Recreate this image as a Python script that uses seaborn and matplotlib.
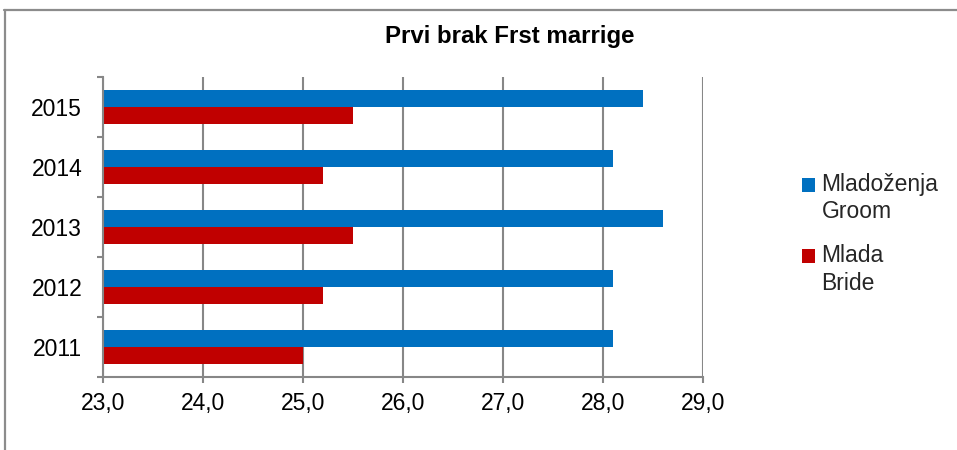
import matplotlib
matplotlib.use("Agg")
import matplotlib.pyplot as plt
import matplotlib.patches as mpatches
from matplotlib.legend_handler import HandlerPatch
from matplotlib.lines import Line2D
from matplotlib.ticker import FuncFormatter, FixedLocator
import seaborn as sns
import pandas as pd

# ---- data ----
years = ["2015", "2014", "2013", "2012", "2011"]
groom = [28.4, 28.1, 28.6, 28.1, 28.1]
bride = [25.5, 25.2, 25.5, 25.2, 25.0]
series_names = ["Mladoženja\nGroom", "Mlada\nBride"]
title = "Prvi brak Frst marrige"
x_ticks = [23, 24, 25, 26, 27, 28, 29]

colors = ["#0070C0", "#C00000"]
grid_col = "#878787"

df = pd.DataFrame({
    "year": years * 2,
    "value": groom + bride,
    "series": [series_names[0]] * len(years) + [series_names[1]] * len(years),
})

sns.set_theme(style="white")
plt.rcParams["font.family"] = ["Liberation Sans", "DejaVu Sans"]

FS = 16.5
fig = plt.figure(figsize=(9.57, 4.5), dpi=100)
ax = fig.add_axes([103 / 957, (450 - 377) / 450, 600 / 957, 300 / 450])

sns.barplot(data=df, x="value", y="year", hue="series", order=years,
            hue_order=series_names, palette=colors, orient="h",
            width=34 / 60, saturation=1, linewidth=0, ax=ax, legend=False,
            errorbar=None)

ax.set_xlim(23, 29)
ax.set_ylim(len(years) - 0.5, -0.5)
ax.set_xlabel("")
ax.set_ylabel("")

# grid
ax.xaxis.set_major_locator(FixedLocator(x_ticks))
ax.xaxis.set_major_formatter(FuncFormatter(lambda v, p: f"{v:.1f}".replace(".", ",")))
ax.grid(axis="x", color=grid_col, linewidth=1.5)
ax.set_axisbelow(True)

for s in ["top", "right"]:
    ax.spines[s].set_visible(False)
for s in ["left", "bottom"]:
    ax.spines[s].set_color(grid_col)
    ax.spines[s].set_linewidth(1.5)

ax.tick_params(axis="x", which="major", bottom=True, length=4, width=1.5,
               color=grid_col, direction="out", labelsize=FS, pad=7,
               labelcolor="black")
ax.yaxis.set_minor_locator(FixedLocator([i - 0.5 for i in range(len(years) + 1)]))
ax.tick_params(axis="y", which="minor", left=True, length=4, width=1.5,
               color=grid_col, direction="out")
ax.tick_params(axis="y", which="major", left=False, length=0, labelsize=FS,
               pad=15, labelcolor="black")

# title
fig.text(510 / 957, 1 - 36 / 450, title, ha="center", va="center",
         fontsize=17.3, fontweight="bold", color="black")

# legend (square aligned with first line of each label)
def square_first_line(legend, orig_handle, xdescent, ydescent, width, height, fontsize):
    shift = 0.62 * fontsize
    return mpatches.Rectangle((-xdescent, -ydescent + shift), width, height)

handles = [mpatches.Patch(facecolor=c, edgecolor="none") for c in colors]
leg = fig.legend(handles, series_names, loc="upper left",
                 bbox_to_anchor=(802 / 957, 1 - 173 / 450), frameon=False,
                 fontsize=FS, handlelength=0.55, handleheight=0.55,
                 handletextpad=0.3, labelspacing=0.9, borderpad=0, borderaxespad=0,
                 handler_map={mpatches.Patch: HandlerPatch(patch_func=square_first_line)})
for t in leg.get_texts():
    t.set_linespacing(1.25)

# outer frame (top and left edges)
fig.add_artist(Line2D([4 / 957, 1], [1 - 9.5 / 450, 1 - 9.5 / 450],
                      transform=fig.transFigure, color="#8c8c8c", linewidth=1.6))
fig.add_artist(Line2D([4.5 / 957, 4.5 / 957], [0, 1 - 9.5 / 450],
                      transform=fig.transFigure, color="#8c8c8c", linewidth=1.6))

fig.savefig("out.png", dpi=100)
